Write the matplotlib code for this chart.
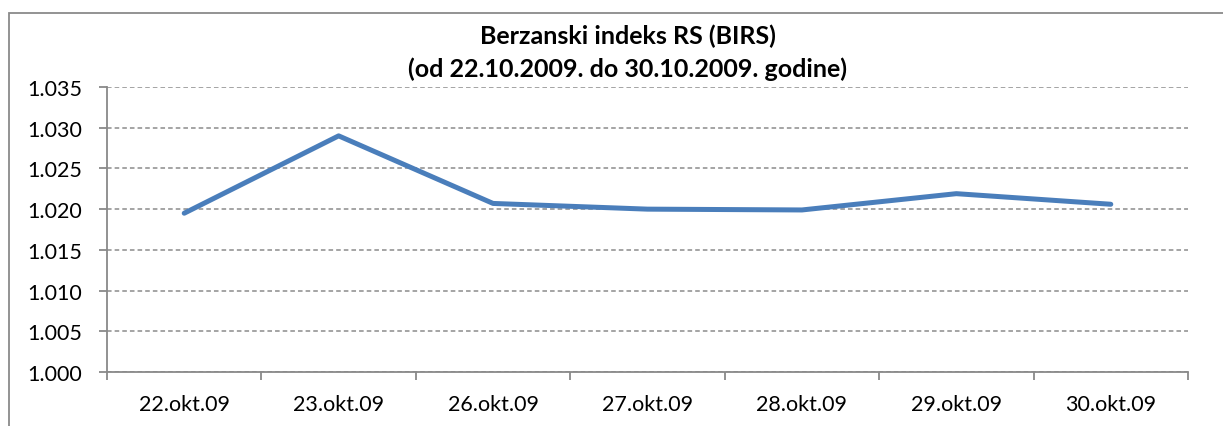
import matplotlib
matplotlib.use("Agg")
import matplotlib.pyplot as plt
from matplotlib.ticker import FixedLocator, FuncFormatter
from matplotlib.patches import Rectangle

# ---- data ----
categories = ["22.okt.09", "23.okt.09", "26.okt.09", "27.okt.09",
              "28.okt.09", "29.okt.09", "30.okt.09"]
values = [1019.5, 1029.0, 1020.7, 1020.0, 1019.9, 1021.9, 1020.6]
y_ticks = [1000, 1005, 1010, 1015, 1020, 1025, 1030, 1035]
title_line1 = "Berzanski indeks RS (BIRS)"
title_line2 = "(od 22.10.2009. do 30.10.2009. godine)"

W, H = 1223, 427
plt.rcParams['font.family'] = ['Lato', 'DejaVu Sans']

fig = plt.figure(figsize=(W / 100, H / 100), dpi=100)
fig.patch.set_facecolor("white")

# outer chart frame (right/bottom beyond the image)
frame = Rectangle((8.5 / W, -0.1), 1.2, 1.1 - 13.5 / H, transform=fig.transFigure,
                  fill=False, edgecolor="#8a8a8a", linewidth=1.3, clip_on=False)
fig.patches.append(frame)

x0, x1 = 107, 1188
y0, y1 = 88, 373
ax = fig.add_axes([x0 / W, 1 - y1 / H, (x1 - x0) / W, (y1 - y0) / H])

xs = list(range(len(categories)))
ax.plot(xs, values, color="#4A7EBB", linewidth=3.6,
        solid_capstyle="round", solid_joinstyle="round", zorder=3)

ax.set_xlim(-0.5, len(categories) - 0.5)
ax.set_ylim(y_ticks[0], y_ticks[-1])

gray = "#898989"
# x axis: ticks at category boundaries, labels at centres
ax.xaxis.set_major_locator(FixedLocator([i - 0.5 for i in range(len(categories) + 1)]))
ax.xaxis.set_major_formatter(FuncFormatter(lambda v, p: ""))
ax.xaxis.set_minor_locator(FixedLocator(xs))
ax.set_xticklabels(categories, minor=True)
ax.tick_params(axis="x", which="major", length=6, width=1.3, color=gray, direction="out")
ax.tick_params(axis="x", which="minor", length=0, pad=16, labelsize=15.5, labelcolor="black")

ax.set_yticks(y_ticks)
ax.yaxis.set_major_formatter(FuncFormatter(lambda v, p: f"{v:,.0f}".replace(",", ".")))
ax.tick_params(axis="y", length=6, width=1.3, color=gray, direction="out",
               pad=12, labelsize=15.5, labelcolor="black")

for side in ["top", "right"]:
    ax.spines[side].set_visible(False)
for side in ["left", "bottom"]:
    ax.spines[side].set_color(gray)
    ax.spines[side].set_linewidth(1.3)

ax.yaxis.grid(True, linestyle=(0, (3, 2)), color="#8c8c8c", linewidth=1.1)
ax.set_axisbelow(True)

cx = 628 / W
fig.text(cx, 1 - 44 / H, title_line1, ha="center", va="baseline",
         fontsize=18, fontweight="bold")
fig.text(cx, 1 - 77 / H, title_line2, ha="center", va="baseline",
         fontsize=18, fontweight="bold")

fig.savefig("out.png", dpi=100, facecolor="white")
